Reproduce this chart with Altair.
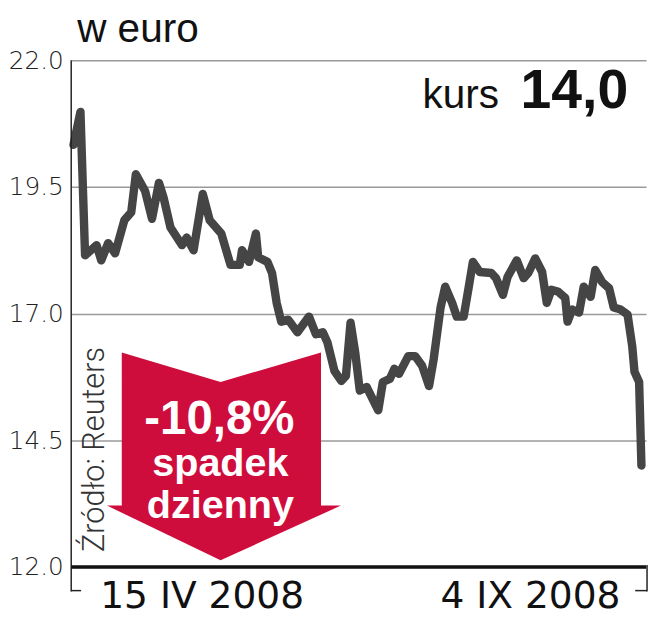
import altair as alt
import pandas as pd

# ---- data ----
days = [1, 4, 6, 11, 13, 16, 19, 23, 26, 28, 32, 35, 38, 40, 43, 48, 50, 53, 57, 60,
        65, 69, 73, 74, 77, 80, 81, 85, 87, 89, 91, 94, 98, 103, 106, 109, 111, 114, 117, 119,
        121, 123, 125, 128, 133, 135, 138, 140, 142, 146, 149, 152, 155, 157, 160, 162, 165, 167, 170, 172,
        174, 177, 182, 184, 187, 189, 193, 196, 198, 201, 204, 206, 208, 211, 214, 215, 217, 220, 222, 225,
        227, 230, 233, 235, 238, 241, 243, 244, 246, 247]
values = [20.33, 20.98, 18.15, 18.35, 18.05, 18.39, 18.19, 18.84, 19.0, 19.75,
          19.42, 18.87, 19.58, 19.29, 18.70, 18.35, 18.50, 18.25, 19.36, 18.84,
          18.58, 17.96, 17.96, 18.25, 18.02, 18.58, 18.11, 18.02, 17.8, 17.21,
          16.84, 16.88, 16.63, 16.94, 16.59, 16.63, 16.43, 15.87, 15.67, 15.77,
          16.82, 16.24, 15.48, 15.55, 15.09, 15.65, 15.71, 15.91, 15.81, 16.16,
          16.16, 15.97, 15.57, 16.10, 17.12, 17.53, 17.21, 16.94, 16.94, 17.47,
          18.02, 17.82, 17.8, 17.70, 17.37, 17.72, 18.05, 17.70, 17.80, 18.09,
          17.82, 17.21, 17.47, 17.43, 17.31, 16.84, 17.08, 17.02, 17.53, 17.33,
          17.86, 17.62, 17.5, 17.12, 17.08, 16.98, 16.36, 15.85, 15.65, 14.0]

y_ticks = [12.0, 14.5, 17.0, 19.5, 22.0]
x_label_pos = [56.5, 198.7]
x_labels = ["15 IV 2008", "4 IX 2008"]

# red "down" arrow annotation (in chart units): shaft and head
shaft_day = [21.9, 64.7, 108.2]
shaft_top = [16.23, 15.65, 16.23]
shaft_bot = [13.15, 13.15, 13.15]
head_day = [15.5, 64.7, 116.8]
head_top = [13.21, 13.21, 13.21]
head_bot = [13.21, 12.13, 13.21]

title_text = "w euro"
kurs_label = "kurs"
kurs_value = "14,0"
arrow_lines = ["-10,8%", "spadek", "dzienny"]
source_text = "Źródło: Reuters"

RED = "#cf0d3c"
LINE = "#454545"

df = pd.DataFrame({"day": days, "val": values})
shaft_df = pd.DataFrame({"day": shaft_day, "val": shaft_top, "val2": shaft_bot})
head_df = pd.DataFrame({"day": head_day, "val": head_top, "val2": head_bot})

xscale = alt.Scale(domain=[0, 249], nice=False, zero=False)
yscale = alt.Scale(domain=[12, 22], nice=False, zero=False)

label_expr = "datum.value < 100 ? '%s' : '%s'" % (x_labels[0], x_labels[1])

xaxis = alt.Axis(values=x_label_pos, labelExpr=label_expr, grid=False, domain=False,
                 ticks=False, tickSize=0, labelFont="DejaVu Sans", labelFontSize=38,
                 labelColor="#111", labelPadding=41, labelBaseline="alphabetic",
                 labelFlush=False, labelOverlap=False, labelLimit=0, title=None)
yaxis = alt.Axis(values=y_ticks, format=".1f", grid=True, gridColor="#9a9a9a",
                 gridWidth=1.5, domain=False, ticks=False, tickSize=0,
                 labelFont="DejaVu Sans", labelFontWeight=200, labelFontSize=25,
                 labelColor="#222", labelPadding=8, labelFlush=False,
                 labelOverlap=False, labelLimit=0, title=None)

line = alt.Chart(df).mark_line(color=LINE, strokeWidth=8.5, strokeCap="round",
                               strokeJoin="round").encode(
    x=alt.X("day:Q", scale=xscale, axis=xaxis),
    y=alt.Y("val:Q", scale=yscale, axis=yaxis),
)


def area(d):
    return alt.Chart(d).mark_area(color=RED, opacity=1, interpolate="linear").encode(
        x=alt.X("day:Q", scale=xscale),
        y=alt.Y("val:Q", scale=yscale, stack=None),
        y2="val2:Q",
    )


one = pd.DataFrame({"k": [0]})


def txt(text, x, y, size, font="Liberation Sans", weight="normal", color="#111",
        align="left", angle=0):
    kw = dict(text=text, font=font, fontSize=size, fontWeight=weight, color=color,
              align=align, baseline="alphabetic")
    if angle:
        kw["angle"] = angle
    return alt.Chart(one).mark_text(**kw).encode(x=alt.value(x), y=alt.value(y))


def rule(x, y, x2=None, y2=None, w=1.5, color="#222"):
    enc = dict(x=alt.value(x), y=alt.value(y))
    if x2 is not None:
        enc["x2"] = alt.value(x2)
    if y2 is not None:
        enc["y2"] = alt.value(y2)
    return alt.Chart(one).mark_rule(color=color, strokeWidth=w).encode(**enc)


texts = [
    txt(title_text, 6, -18, 41),
    txt(kurs_label, 433, 48, 41, align="right"),
    txt(kurs_value, 455, 48, 56, weight="bold"),
    txt(arrow_lines[0], 150, 378, 48, weight="bold", color="white", align="center"),
    txt(arrow_lines[1], 151, 421, 40, weight="bold", color="white", align="center"),
    txt(arrow_lines[2], 151, 463, 40, weight="bold", color="white", align="center"),
    txt(source_text, 33, 498, 31, font="Roboto", weight=300, color="#333", angle=270),
]

rules = [
    rule(0, 0, y2=538),
    rule(0, 537, x2=10),
    rule(0, 513, x2=582, w=3.5, color="#111"),
    rule(583, 511, y2=538),
    rule(571, 537, x2=583),
]

chart = alt.layer(line, area(shaft_df), area(head_df), *texts, *rules).properties(
    width=582, height=513,
    autosize=alt.AutoSizeParams(type="none"),
    padding={"left": 64, "top": 49, "right": 4, "bottom": 60},
    background="white",
).configure_view(stroke=None)

chart.save("out.html", embed_options={"renderer": "svg", "actions": False})
